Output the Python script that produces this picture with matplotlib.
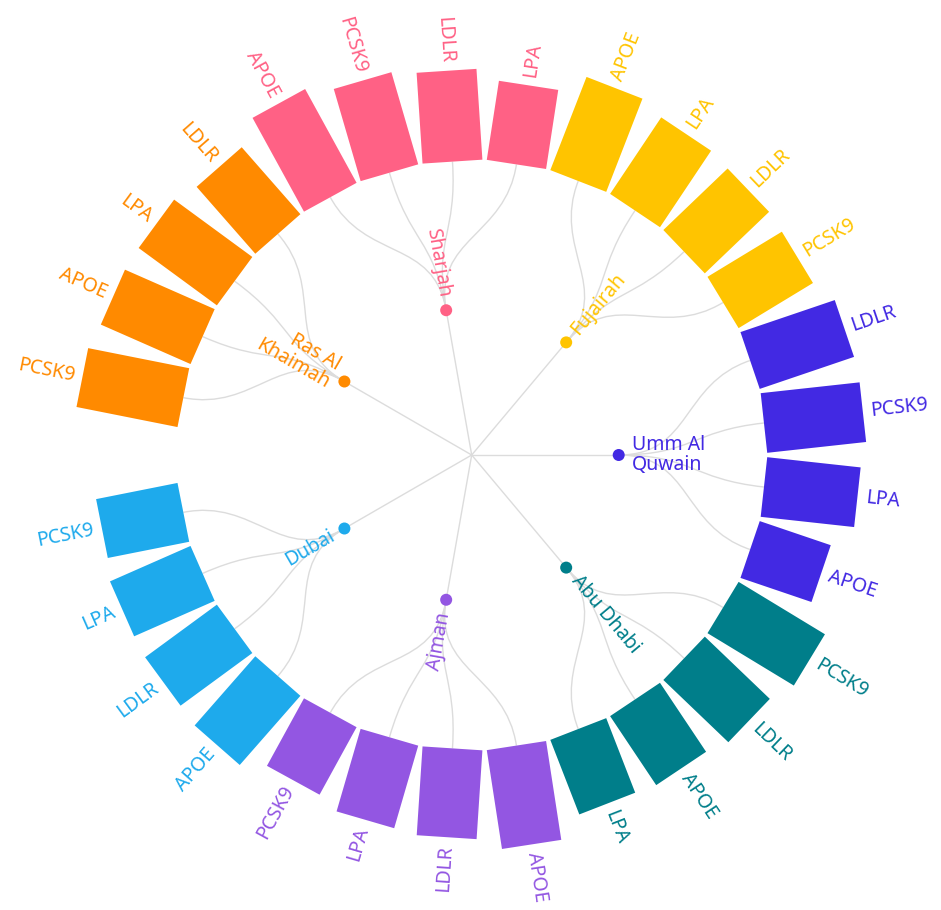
import numpy as np
import matplotlib
matplotlib.use("Agg")
import matplotlib.pyplot as plt
from matplotlib.patches import Polygon, Circle, PathPatch
from matplotlib.path import Path

# ---------------- data ----------------
emirates = ["Umm Al Quwain", "Fujairah", "Sharjah", "Ras Al Khaimah",
            "Dubai", "Ajman", "Abu Dhabi"]
emirate_labels = ["Umm Al\nQuwain", "Fujairah", "Sharjah", "Ras Al\nKhaimah",
                  "Dubai", "Ajman", "Abu Dhabi"]
colors = ["#4229E3", "#FFC400", "#FF6185", "#FF8A00",
          "#1EAAEC", "#9356E2", "#007E8A"]

# genes of each emirate (clockwise order) and their values
umm_genes = ["LDLR", "PCSK9", "LPA", "APOE"]
umm_values = [99.6, 99.5, 94, 75]
fujairah_genes = ["APOE", "LPA", "LDLR", "PCSK9"]
fujairah_values = [100, 92, 89, 87]
sharjah_genes = ["APOE", "PCSK9", "LDLR", "LPA"]
sharjah_values = [107, 96, 91, 80]
ras_genes = ["PCSK9", "APOE", "LPA", "LDLR"]
ras_values = [103, 98, 97, 89]
dubai_genes = ["APOE", "LDLR", "LPA", "PCSK9"]
dubai_values = [92, 89, 88, 83]
ajman_genes = ["APOE", "LDLR", "LPA", "PCSK9"]
ajman_values = [100, 89, 86, 77]
abudhabi_genes = ["PCSK9", "LDLR", "APOE", "LPA"]
abudhabi_values = [101, 90, 83, 80]

genes = [umm_genes, fujairah_genes, sharjah_genes, ras_genes,
         dubai_genes, ajman_genes, abudhabi_genes]
values = [umm_values, fujairah_values, sharjah_values, ras_values,
          dubai_values, ajman_values, abudhabi_values]

# ---------------- layout ----------------
W, H = 941, 910
cx, cy = 471.7, 455.0
r_node = 147.0
r_leaf = 294.0
bar_w = 60.0
px_per_unit = 1.0
group_step = 50.0
leaf_step = 12.5
gap = 360 - group_step * len(emirates)
FONT = ["Noto Sans", "DejaVu Sans"]
FS = 14
LINE_C = "#dcdcdc"

plt.rcParams["font.family"] = FONT

fig = plt.figure(figsize=(W / 100, H / 100), dpi=100)
ax = fig.add_axes([0, 0, 1, 1])
ax.set_xlim(0, W)
ax.set_ylim(H, 0)
ax.axis("off")


def pt(a_deg, r):
    a = np.deg2rad(a_deg)
    return np.array([cx + r * np.cos(a), cy - r * np.sin(a)])


def place_text(a_deg, r, s, color):
    a = a_deg % 360
    x, y = pt(a, r)
    if 90 < a < 270:
        rot, ha = a - 180, "right"
    else:
        rot, ha = (a if a <= 90 else a - 360), "left"
    ax.text(x, y, s, rotation=rot, rotation_mode="anchor", ha=ha, va="center",
            color=color, fontsize=FS, linespacing=1.05, zorder=5)


for i, (name, lab, col, gs, vs) in enumerate(zip(emirates, emirate_labels, colors, genes, values)):
    ga = i * group_step + (gap if i > 3 else 0)
    node = pt(ga, r_node)
    # root -> node
    ax.plot([cx, node[0]], [cy, node[1]], color=LINE_C, lw=1.0, zorder=1)
    n = len(gs)
    for j, (g, v) in enumerate(zip(gs, vs)):
        la = ga + ((n - 1) / 2 - j) * leaf_step
        # radial bump link node -> leaf
        rm = (r_node + r_leaf) / 2
        verts = [node, pt(ga, rm), pt(la, rm), pt(la, r_leaf)]
        path = Path(verts, [Path.MOVETO, Path.CURVE4, Path.CURVE4, Path.CURVE4])
        ax.add_patch(PathPatch(path, fill=False, edgecolor=LINE_C, lw=1.0, zorder=1))
        # bar as rotated rectangle
        L = v * px_per_unit
        a = np.deg2rad(la)
        u = np.array([np.cos(a), -np.sin(a)])
        p = np.array([np.sin(a), np.cos(a)])
        c0 = np.array([cx, cy]) + r_leaf * u
        c1 = np.array([cx, cy]) + (r_leaf + L) * u
        corners = [c0 + p * bar_w / 2, c1 + p * bar_w / 2,
                   c1 - p * bar_w / 2, c0 - p * bar_w / 2]
        ax.add_patch(Polygon(corners, closed=True, facecolor=col,
                             edgecolor="none", zorder=3))
        place_text(la, r_leaf + L + 8, g, col)
    ax.add_patch(Circle(node, 6, facecolor=col, edgecolor="none", zorder=4))
    place_text(ga, r_node + 13, lab, col)

fig.savefig("out.png", dpi=100, facecolor="white")
